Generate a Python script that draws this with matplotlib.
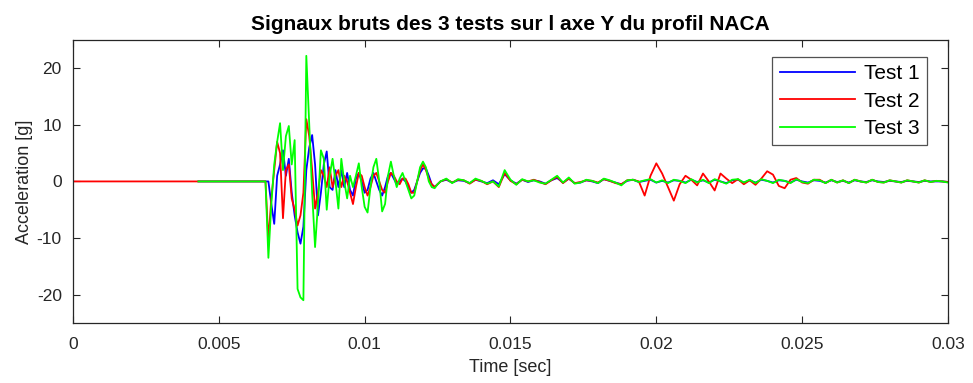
import numpy as np
import matplotlib
matplotlib.use('Agg')
import matplotlib.pyplot as plt

# ----------------------------------------------------------------------------
# raw accelerometer signals, Y axis, 3 tests
# ----------------------------------------------------------------------------
labels = ['Test 1', 'Test 2', 'Test 3']
colors = ['#0000ff', '#ff0000', '#00ff00']

# time at which each record begins (signal is flat until the impact)
t_start = [0.0043, 0.0, 0.0043]

# impact burst, sampled every 0.1 ms from 6.6 ms
burst_t0, burst_dt = 0.0066, 0.0001
burst_1 = [0, 0, -4, -7.5, 1, 3, 5.5, 1, 4, -2,
           -6, -9, -11, -8, 2, 6, 8.2, 3, -6, -2,
           3, 5.3, -1, -1.5, 2, -1, 2, -1, 1.5, -1.5,
           -2.5, 0.5, 1.5, 0, -2, -1.5, 0.5, 1.5, 0, -1.5,
           -2.5, -1, 1, 1.5, 0.5, -0.5, 0, 0.5, 0, -1,
           -2, -1.5, 0, 1.5, 2.3, 2.3, 1, -0.5, -1, -0.5, 0]
burst_2 = [0, -10.5, -3, 2, 7, 5, -6.5, 2, 3, -3,
           -5, -7.8, -6, -2, 11, 8, 2, -4.8, -2, 2,
           1, -1, 2.5, -1, 1, 2, -1, 1, 0, -2,
           -4, -1, 1.5, 1, -1, -2.5, -1, 1, 1.5, 0,
           -1.5, -2, 0, 1.5, 1, 0, -0.5, 0.5, 0.5, -0.5,
           -2, -2, 0, 2, 3, 2, 0.5, -0.5, -1, -0.5, 0]
burst_3 = [0, -13.5, -4, 3, 7, 10.3, 2, 8, 9.8, 3,
           7.3, -19, -20.5, -21, 22.2, 10, -2, -11.6, -4, 5.5,
           4, -5, 1, 4, 0, -4.8, 4, 0, -3, 1,
           -1, 1, 3.2, -1, -4.5, -5.5, -1, 2.5, 4, 0,
           -5.3, -4, 1, 3.5, 1, -1, 0.5, 1.5, 0, -1.5,
           -3, -2.5, 0, 2.5, 3.5, 2.5, 0, -1, -1.2, -0.5, 0]

# decaying tail, sampled every 0.2 ms from 12.8 ms
tail_t0, tail_dt = 0.0128, 0.0002
tail_1 = [0.3, -0.2, 0.2, 0.1, -0.3, 0.3, 0, -0.3, 0.2, -0.5,
          1.3, 0.2, -0.4, 0.3, -0.1, 0.2, 0, -0.4, 0.2, 0.6,
          -0.2, 0.5, -0.3, -0.2, 0.2, 0, -0.3, 0.4, 0.1, -0.2,
          -0.5, 0.1, 0.3, -0.1, 0.1, 0.3, -0.2, 0.1, -0.2, 0.2,
          0.1, -0.2, 0.3, -0.1, 0.2, -0.2, 0.3, 0, -0.3, 0.2,
          0.3, -0.2, 0.2, -0.2, 0.3, 0.1, -0.2, 0.2, 0.1, -0.2,
          0.3, 0, -0.2, 0.2, 0.1, -0.2, 0.2, -0.1, 0.1, -0.2,
          0.2, 0, -0.1, 0.2, 0, -0.1, 0.1, 0, -0.1, 0.1,
          0, -0.1, 0.1, 0, 0, 0, -0.1]
tail_2 = [0.4, -0.2, 0.3, 0.2, -0.4, 0.3, 0.1, -0.5, 0, -1.0,
          1.5, 0.1, -0.5, 0.3, 0, 0.3, -0.1, -0.5, 0.2, 0.8,
          -0.3, 0.5, -0.3, -0.1, 0.2, 0.1, -0.2, 0.4, 0.1, -0.3,
          -0.5, 0.2, 0.3, 0, -2.5, 1.0, 3.2, 1.4, -1.0, -3.4,
          -0.5, 1.0, 0.3, -0.7, 1.4, 0, -1.6, 1.4, 0.5, -0.3,
          0.4, -0.5, 0.2, -0.6, 0.5, 1.8, 1.2, -0.8, -1.2, 0.3,
          0.6, -0.2, -0.4, 0.3, 0.3, -0.3, 0.3, -0.2, 0.2, -0.3,
          0.3, 0, -0.2, 0.3, -0.1, -0.2, 0.2, 0, -0.2, 0.2,
          0, -0.2, 0.2, -0.1, 0.1, 0, -0.1]
tail_3 = [0.5, -0.3, 0.4, 0.2, -0.3, 0.5, 0.1, -0.4, 0, -0.9,
          2.0, 0.3, -0.6, 0.4, 0, 0.2, -0.2, -0.4, 0.3, 1.0,
          -0.2, 0.7, -0.4, -0.2, 0.3, 0.1, -0.3, 0.5, 0.2, -0.2,
          -0.7, 0.2, 0.3, -0.1, 0.2, 0.4, -0.2, 0.2, -0.3, 0.3,
          0.1, -0.3, 0.4, -0.2, 0.3, -0.3, 0.4, 0, -0.4, 0.3,
          0.4, -0.2, 0.3, -0.3, 0.4, 0.1, -0.3, 0.3, 0.1, -0.3,
          0.4, -0.1, -0.3, 0.3, 0.2, -0.3, 0.3, -0.2, 0.2, -0.3,
          0.3, 0, -0.2, 0.3, -0.1, -0.2, 0.2, 0, -0.2, 0.2,
          0, -0.2, 0.2, -0.1, 0.1, 0, -0.2]

bursts = [burst_1, burst_2, burst_3]
tails = [tail_1, tail_2, tail_3]

plt.rcParams['font.family'] = ['Liberation Sans', 'DejaVu Sans']
plt.rcParams['axes.unicode_minus'] = False

fig = plt.figure(figsize=(9.73, 3.83), dpi=100)
ax = fig.add_axes([0.075, 0.157, 0.8993, 0.7386])

for t0, b, tl, c, lab in zip(t_start, bursts, tails, colors, labels):
  tb = burst_t0 + burst_dt * np.arange(len(b))
  tt = tail_t0 + tail_dt * np.arange(len(tl))
  t = np.concatenate([[t0], tb, tt])
  y = np.concatenate([[0.0], b, tl])
  ax.plot(t, y, color=c, lw=1.3, label=lab)

ax.set_xlim(0, 0.03)
ax.set_ylim(-25, 25)
ax.set_xticks([0, 0.005, 0.01, 0.015, 0.02, 0.025, 0.03])
ax.set_xticklabels(['0', '0.005', '0.01', '0.015', '0.02', '0.025', '0.03'])
ax.set_yticks([-20, -10, 0, 10, 20])
ax.tick_params(direction='in', length=5, top=True, right=True,
               labelsize=12.5, colors='#262626')
ax.tick_params(axis='x', pad=10)
ax.tick_params(axis='y', pad=8)
for s in ax.spines.values():
  s.set_color('#262626')
  s.set_linewidth(0.9)

ax.set_title('Signaux bruts des 3 tests sur l axe Y du profil NACA',
             fontsize=15, fontweight='bold', color='#000000', pad=7)
ax.set_xlabel('Time [sec]', fontsize=13, color='#262626', labelpad=5)
ax.set_ylabel('Acceleration [g]', fontsize=13, color='#262626', labelpad=3)

leg = ax.legend(loc='upper right', bbox_to_anchor=(0.976, 0.94),
                fontsize=15, handlelength=3.6, handletextpad=0.45,
                frameon=True, fancybox=False, borderaxespad=0,
                labelspacing=0.4, borderpad=0.35)
leg.get_frame().set_edgecolor('#262626')
leg.get_frame().set_linewidth(0.9)

plt.savefig('out.png', dpi=100)
